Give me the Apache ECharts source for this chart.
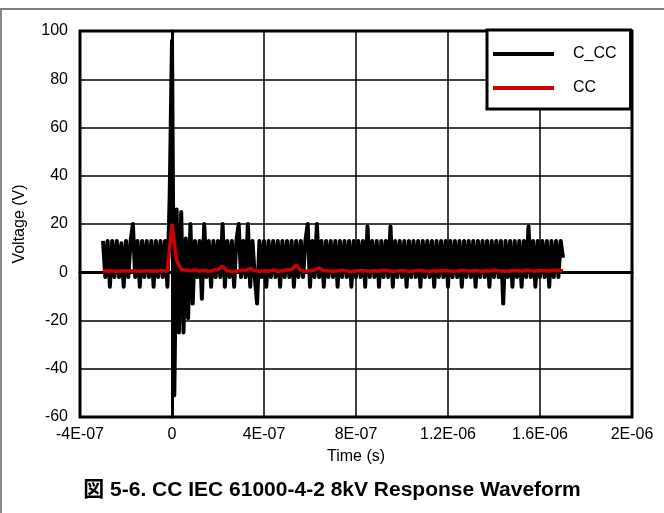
<!DOCTYPE html>
<html>
<head>
<meta charset="utf-8">
<script src="https://cdn.jsdelivr.net/npm/echarts@6/dist/echarts.min.js"></script>
<style>
    html, body { margin: 0; padding: 0; background: #fff; }
    #chart { width: 664px; height: 513px; }
</style>
</head>
<body>
<div id="chart"></div>
<script>
    var seriesNames = ['C_CC', 'CC'];
    var cccStart = -3e-7;
    var cccStep = 1e-8;
    var cccValues = [
        13, -2, 13, -6, 13, -2, 13, -2, 12, -6,
        13, -2, 13, 20, -2, 13, -6, 13, -2, 13,
        -2, 13, -6, 13, -2, 13, -2, 13, -6, 32,
        96, -51, 26, -25, 25, -25, 14, -19, 20, -13,
        13, -2, 13, -11, 20, -2, 13, -6, 13, -2,
        13, -2, 20, -6, 13, -2, 13, -6, 13, 20,
        -2, 13, -2, 20, -6, 13, -2, -13, 13, -2,
        13, -6, 13, -2, 13, -2, 13, -6, 13, -2,
        13, -2, 13, -6, 13, -2, 13, -2, 13, 20,
        -6, 13, -2, 20, -2, 13, -6, 13, -2, 13,
        -2, 13, -6, 13, -2, 13, -2, 13, -6, 13,
        -2, 13, -2, 13, -6, 19, -2, 13, -2, 13,
        -6, 13, -2, 13, -2, 19, -6, 13, -2, 13,
        -2, 13, -6, 13, -2, 13, -2, 13, -6, 13,
        -2, 13, -2, 13, -6, 13, -2, 13, -2, 13,
        -6, 13, -2, 13, -2, 13, -6, 13, -2, 13,
        -2, 13, -6, 13, -2, 13, -2, 13, -6, 13,
        -2, 13, -2, 13, -13, 13, -2, 13, -6, 13,
        -2, 13, -6, 13, -2, 19, -2, 13, -6, 13,
        -2, 13, -2, 13, -6, 13, -2, 13, -2, 13,
        6
    ];
    var ccStart = -3e-7;
    var ccStep = 2e-8;
    var ccValues = [
        0.5, 0.6, 0.5, 0.4, 0.6, 0.5, 0.5, 0.6, 0.4, 0.5,
        0.6, 0.5, 0.5, 0.6, 0.5, 20, 5, 1.2, 0.8, 0.6,
        0.9, 0.5, 0.7, 0.4, 0.8, 1.2, 2.5, 0.6, 0.3, 0.4,
        0.7, 0.8, 1.6, 0.7, 0.4, 0.6, 0.5, 0.8, 0.4, 0.6,
        0.9, 1.2, 3.0, 0.8, 0.4, 0.6, 0.9, 1.8, 0.7, 0.5,
        0.4, 0.6, 0.8, 0.5, 0.3, 0.5, 0.7, 0.6, 0.4, 0.6,
        0.5, 0.8, 0.6, 0.4, 0.5, 0.7, 0.5, 0.4, 0.6, 0.8,
        0.5, 0.4, 0.6, 0.5, 0.7, 0.6, 0.4, 0.5, 0.8, 0.6,
        0.5, 0.7, 0.4, 0.6, 0.5, 0.8, 0.6, 0.5, 0.4, 0.7,
        0.6, 0.5, 0.8, 0.6, 0.5, 0.7, 0.6, 0.5, 0.8, 0.7,
        0.6
    ];
    var xTickLabels = ['-4E-07', '0', '4E-07', '8E-07', '1.2E-06', '1.6E-06', '2E-06'];
    var yTicks = [-60, -40, -20, 0, 20, 40, 60, 80, 100];

    var font = '"Liberation Sans", Arial, "Noto Sans CJK JP", sans-serif';

    var cccData = cccValues.map(function (v, i) { return [cccStart + i * cccStep, v]; });
    var ccData = ccValues.map(function (v, i) { return [ccStart + i * ccStep, v]; });

    var myChart = echarts.init(document.getElementById('chart'));
    myChart.setOption({
        animation: false,
        backgroundColor: '#fff',
        textStyle: { fontFamily: font, color: '#000' },
        grid: {
            left: 80, right: 32, top: 31, bottom: 96,
            show: true, borderColor: '#000', borderWidth: 3
        },
        legend: {
            orient: 'vertical',
            left: 487, top: 30,
            padding: [16, 14, 13, 6],
            itemGap: 18,
            itemWidth: 61,
            itemHeight: 4,
            icon: 'rect',
            borderColor: '#000',
            borderWidth: 3,
            backgroundColor: '#fff',
            textStyle: { fontFamily: font, fontSize: 16, color: '#000', padding: [0, 0, 0, 14] },
            data: seriesNames
        },
        xAxis: {
            type: 'value',
            min: -4e-7, max: 2e-6, interval: 4e-7,
            name: 'Time (s)',
            nameLocation: 'middle',
            nameGap: 32,
            nameTextStyle: { fontFamily: font, fontSize: 16, color: '#000' },
            axisLine: { show: true, lineStyle: { color: '#000', width: 3 } },
            axisTick: { show: false },
            axisLabel: {
                fontFamily: font, fontSize: 16, color: '#000', margin: 10,
                formatter: function (v, i) { return xTickLabels[i]; }
            },
            splitLine: { show: true, lineStyle: { color: '#000', width: 1.5 } }
        },
        yAxis: {
            type: 'value',
            min: yTicks[0], max: yTicks[yTicks.length - 1], interval: 20,
            name: 'Voltage (V)',
            nameLocation: 'middle',
            nameGap: 52,
            nameTextStyle: { fontFamily: font, fontSize: 16, color: '#000' },
            axisLine: { show: true, lineStyle: { color: '#000', width: 3 } },
            axisTick: { show: false },
            axisLabel: { fontFamily: font, fontSize: 16, color: '#000', margin: 12 },
            splitLine: { show: true, lineStyle: { color: '#000', width: 1.5 } }
        },
        graphic: [
            { type: 'line', shape: { x1: 0, y1: 9, x2: 664, y2: 9 }, style: { stroke: '#000', lineWidth: 1 } },
            { type: 'line', shape: { x1: 1, y1: 9, x2: 1, y2: 513 }, style: { stroke: '#888', lineWidth: 2 } },
            {
                type: 'text', left: 'center', top: 480,
                style: {
                    text: '図 5-6. CC IEC 61000-4-2 8kV Response Waveform',
                    font: 'bold 21px ' + font, fill: '#000'
                }
            }
        ],
        series: [
            {
                name: seriesNames[0], type: 'line', data: cccData,
                symbol: 'none', color: '#000',
                lineStyle: { color: '#000', width: 4, join: 'round' }, z: 2
            },
            {
                name: seriesNames[1], type: 'line', data: ccData,
                symbol: 'none', color: '#cc0000',
                lineStyle: { color: '#cc0000', width: 3.5 }, z: 3
            }
        ]
    });
</script>
</body>
</html>
